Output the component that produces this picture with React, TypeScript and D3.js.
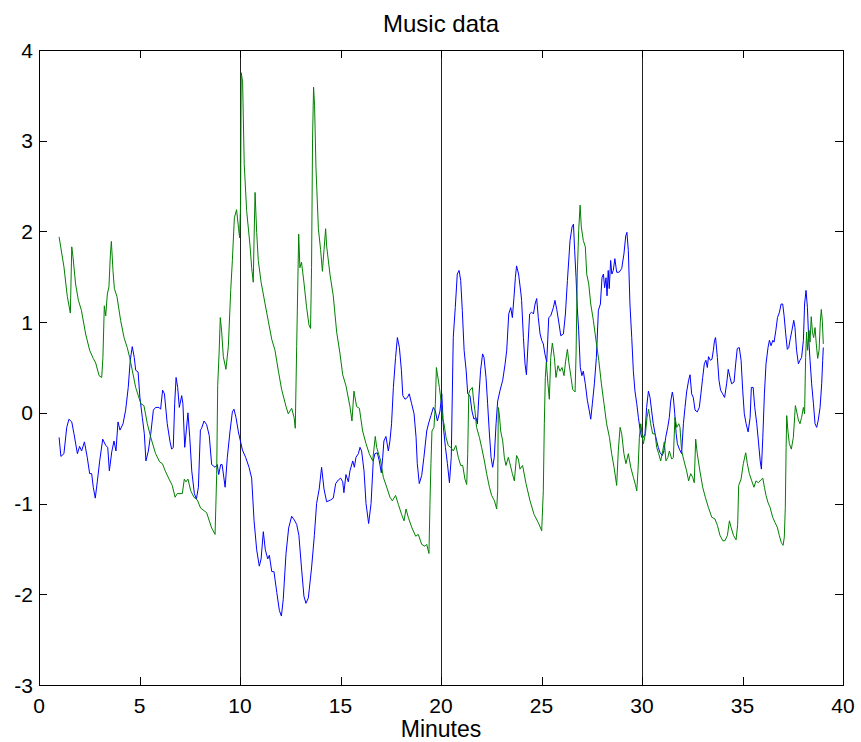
import React from "react";
import * as d3 from "d3";

// Chart text
const chartTitle = "Music data";
const xAxisLabel = "Minutes";

// Axis domains and ticks
const xDomain: [number, number] = [0, 40];
const yDomain: [number, number] = [-3, 4];
const xTicks = [0, 5, 10, 15, 20, 25, 30, 35, 40];
const yTicks = [-3, -2, -1, 0, 1, 2, 3, 4];

// Section markers (minutes)
const sectionMarkers = [10, 20, 30];

// Blue series: [minute, value]
const blueTrace: [number, number][] = [
  [1.0, -0.27], [1.09, -0.48], [1.24, -0.45], [1.38, -0.16], [1.49, -0.07], [1.63, -0.1], [1.74, -0.23],
  [1.91, -0.45], [2.02, -0.37], [2.12, -0.42], [2.26, -0.32], [2.4, -0.49], [2.52, -0.67], [2.62, -0.67],
  [2.7, -0.82], [2.8, -0.94], [2.9, -0.76], [3.02, -0.53], [3.17, -0.29], [3.32, -0.36], [3.42, -0.38],
  [3.5, -0.64], [3.62, -0.43], [3.73, -0.31], [3.83, -0.42], [3.93, -0.1], [4.03, -0.19], [4.18, -0.12],
  [4.31, 0.03], [4.44, 0.28], [4.54, 0.58], [4.64, 0.73], [4.74, 0.61], [4.81, 0.47], [4.93, 0.45],
  [5.02, 0.17], [5.14, -0.05], [5.24, -0.23], [5.32, -0.53], [5.44, -0.42], [5.56, -0.23], [5.69, 0.03],
  [5.8, 0.06], [5.97, 0.06], [6.05, 0.04], [6.15, 0.25], [6.24, 0.21], [6.38, -0.12], [6.52, -0.32],
  [6.6, -0.4], [6.68, -0.38], [6.75, 0.1], [6.82, 0.39], [6.9, 0.28], [6.98, 0.06], [7.1, 0.19],
  [7.16, 0.1], [7.25, -0.38], [7.33, -0.19], [7.41, 0.0], [7.5, -0.27], [7.6, -0.64], [7.73, -0.89],
  [7.83, -0.95], [7.93, -0.82], [8.03, -0.19], [8.09, -0.17], [8.21, -0.09], [8.34, -0.13], [8.47, -0.25],
  [8.59, -0.57], [8.76, -0.6], [8.87, -0.57], [8.94, -0.68], [9.04, -0.57], [9.11, -0.57], [9.26, -0.82],
  [9.37, -0.49], [9.5, -0.21], [9.62, 0.01], [9.7, 0.04], [9.8, -0.05], [9.92, -0.21], [10.0, -0.29],
  [10.12, -0.41], [10.28, -0.49], [10.45, -0.6], [10.58, -0.72], [10.7, -1.19], [10.83, -1.51],
  [10.96, -1.69], [11.05, -1.61], [11.16, -1.31], [11.26, -1.51], [11.38, -1.61], [11.46, -1.57],
  [11.58, -1.75], [11.69, -1.75], [11.83, -1.98], [11.96, -2.18], [12.06, -2.24], [12.15, -2.06],
  [12.29, -1.55], [12.42, -1.27], [12.57, -1.14], [12.7, -1.18], [12.82, -1.23], [12.93, -1.35],
  [13.06, -1.71], [13.18, -2.02], [13.28, -2.1], [13.4, -2.04], [13.56, -1.71], [13.7, -1.35],
  [13.81, -1.0], [13.94, -0.84], [14.06, -0.6], [14.18, -0.84], [14.31, -0.98], [14.51, -0.96],
  [14.64, -0.94], [14.76, -0.78], [14.89, -0.74], [15.01, -0.72], [15.11, -0.76], [15.17, -0.88],
  [15.27, -0.68], [15.39, -0.76], [15.47, -0.64], [15.61, -0.53], [15.69, -0.6], [15.77, -0.49],
  [15.89, -0.45], [15.97, -0.38], [16.05, -0.42], [16.17, -0.64], [16.27, -1.0], [16.4, -1.22],
  [16.52, -1.0], [16.63, -0.53], [16.71, -0.45], [16.83, -0.44], [16.93, -0.53], [17.03, -0.66],
  [17.1, -0.49], [17.16, -0.31], [17.26, -0.26], [17.38, -0.42], [17.46, -0.31], [17.54, -0.12],
  [17.63, 0.28], [17.74, 0.61], [17.83, 0.83], [17.93, 0.72], [18.03, 0.47], [18.1, 0.19], [18.21, 0.15],
  [18.33, 0.17], [18.42, 0.21], [18.54, 0.1], [18.66, -0.01], [18.76, -0.27], [18.82, -0.56],
  [18.92, -0.78], [19.04, -0.69], [19.15, -0.49], [19.29, -0.2], [19.39, -0.11], [19.5, -0.03],
  [19.62, 0.06], [19.72, 0.02], [19.82, -0.09], [19.95, 0.02], [20.04, 0.21], [20.12, -0.16],
  [20.22, -0.38], [20.32, -0.56], [20.42, -0.77], [20.51, -0.49], [20.61, 0.83], [20.71, 1.16],
  [20.81, 1.53], [20.9, 1.57], [20.98, 1.46], [21.06, 1.13], [21.15, 0.69], [21.25, 0.47], [21.33, 0.21],
  [21.44, 0.19], [21.54, 0.02], [21.64, -0.07], [21.74, -0.05], [21.81, -0.12], [21.87, 0.13],
  [21.97, 0.47], [22.07, 0.65], [22.14, 0.61], [22.24, 0.39], [22.32, 0.1], [22.4, -0.2], [22.49, -0.49],
  [22.57, -0.6], [22.65, -0.49], [22.74, -0.12], [22.82, 0.13], [22.94, 0.25], [23.07, 0.36],
  [23.19, 0.54], [23.27, 0.69], [23.37, 1.09], [23.47, 1.16], [23.55, 1.05], [23.63, 1.27], [23.7, 1.49],
  [23.76, 1.62], [23.86, 1.53], [23.98, 1.31], [24.01, 1.24], [24.1, 0.83], [24.18, 0.54], [24.25, 0.42],
  [24.33, 0.76], [24.41, 1.09], [24.51, 1.11], [24.6, 1.09], [24.68, 1.2], [24.76, 1.26], [24.84, 1.05],
  [24.93, 0.87], [25.01, 0.8], [25.09, 0.76], [25.17, 0.65], [25.26, 0.56], [25.36, 1.05], [25.46, 1.07],
  [25.59, 1.16], [25.67, 1.24], [25.76, 1.14], [25.86, 1.0], [25.96, 0.85], [26.09, 0.87], [26.19, 1.09],
  [26.29, 1.46], [26.42, 1.9], [26.52, 2.05], [26.59, 2.08], [26.65, 1.79], [26.72, 1.49], [26.78, 1.16],
  [26.85, 0.91], [26.93, 0.5], [27.01, 0.41], [27.08, 0.46], [27.18, 0.32], [27.28, 0.14], [27.38, 0.02],
  [27.45, -0.07], [27.53, 0.1], [27.63, 0.32], [27.73, 0.61], [27.83, 1.13], [27.93, 1.2], [28.01, 1.49],
  [28.08, 1.53], [28.14, 1.38], [28.21, 1.49], [28.26, 1.29], [28.32, 1.57], [28.37, 1.37], [28.44, 1.68],
  [28.5, 1.53], [28.57, 1.57], [28.65, 1.7], [28.74, 1.55], [28.86, 1.55], [28.99, 1.59], [29.1, 1.75],
  [29.19, 1.95], [29.25, 1.99], [29.32, 1.79], [29.4, 1.2], [29.49, 0.83], [29.57, 0.46], [29.65, 0.24],
  [29.74, 0.1], [29.82, -0.05], [29.9, -0.18], [29.98, -0.27], [30.07, -0.27], [30.15, -0.23],
  [30.23, 0.06], [30.32, 0.24], [30.4, 0.17], [30.48, 0.02], [30.56, -0.12], [30.65, -0.23],
  [30.73, -0.31], [30.81, -0.38], [30.9, -0.44], [31.01, -0.47], [31.09, -0.42], [31.18, -0.27],
  [31.28, -0.16], [31.36, -0.05], [31.43, 0.13], [31.51, 0.23], [31.56, 0.17], [31.63, -0.01],
  [31.7, -0.23], [31.76, -0.34], [31.86, -0.4], [31.97, -0.45], [32.06, -0.12], [32.14, 0.06],
  [32.22, 0.23], [32.32, 0.36], [32.39, 0.42], [32.47, 0.21], [32.55, 0.17], [32.64, 0.03], [32.75, 0.01],
  [32.85, 0.06], [32.93, 0.21], [33.02, 0.39], [33.1, 0.54], [33.18, 0.58], [33.25, 0.5], [33.31, 0.62],
  [33.4, 0.58], [33.48, 0.59], [33.55, 0.69], [33.61, 0.8], [33.66, 0.83], [33.75, 0.61], [33.83, 0.36],
  [33.91, 0.25], [34.01, 0.21], [34.11, 0.17], [34.21, 0.32], [34.29, 0.48], [34.38, 0.39], [34.46, 0.32],
  [34.58, 0.34], [34.66, 0.54], [34.74, 0.71], [34.84, 0.72], [34.93, 0.58], [35.01, 0.25], [35.09, -0.01],
  [35.18, -0.12], [35.28, -0.21], [35.38, -0.05], [35.44, 0.28], [35.53, 0.28], [35.61, 0.06],
  [35.71, -0.12], [35.79, -0.31], [35.88, -0.53], [35.94, -0.62], [36.01, -0.27], [36.09, 0.21],
  [36.17, 0.54], [36.27, 0.72], [36.34, 0.8], [36.42, 0.74], [36.51, 0.8], [36.57, 0.78], [36.66, 0.91],
  [36.74, 1.05], [36.84, 1.11], [36.92, 1.2], [37.0, 1.2], [37.07, 1.07], [37.15, 0.87], [37.23, 0.7],
  [37.3, 0.72], [37.38, 0.82], [37.46, 0.91], [37.55, 1.02], [37.61, 0.94], [37.69, 0.69], [37.78, 0.54],
  [37.86, 0.58], [37.94, 0.61], [38.03, 0.8], [38.09, 1.2], [38.16, 1.35], [38.23, 1.16], [38.29, 0.83],
  [38.36, 0.58], [38.44, 0.32], [38.53, 0.1], [38.61, -0.12], [38.69, -0.16], [38.77, -0.08],
  [38.86, 0.06], [38.94, 0.32], [38.99, 0.58], [39.02, 0.72],
];

// Green series: [minute, value]
const greenTrace: [number, number][] = [
  [1.0, 1.94], [1.24, 1.61], [1.41, 1.28], [1.56, 1.1], [1.63, 1.83], [1.69, 1.72], [1.82, 1.42],
  [1.96, 1.24], [2.11, 1.13], [2.32, 0.87], [2.52, 0.69], [2.7, 0.6], [2.82, 0.55], [2.99, 0.41],
  [3.12, 0.39], [3.18, 0.61], [3.25, 1.18], [3.32, 1.07], [3.4, 1.31], [3.48, 1.39], [3.55, 1.74],
  [3.6, 1.89], [3.68, 1.57], [3.75, 1.37], [3.88, 1.28], [4.06, 1.02], [4.23, 0.83], [4.39, 0.72],
  [4.51, 0.61], [4.64, 0.47], [4.81, 0.28], [4.94, 0.19], [5.07, 0.1], [5.22, 0.08], [5.39, -0.12],
  [5.56, -0.27], [5.8, -0.45], [6.0, -0.54], [6.14, -0.56], [6.3, -0.65], [6.47, -0.73], [6.63, -0.8],
  [6.77, -0.93], [6.88, -0.89], [7.13, -0.89], [7.23, -0.73], [7.31, -0.76], [7.41, -0.73], [7.55, -0.86],
  [7.71, -0.93], [7.88, -0.96], [8.04, -1.05], [8.34, -1.1], [8.59, -1.27], [8.76, -1.34], [8.84, -0.68],
  [8.89, 0.3], [8.96, 0.66], [9.02, 1.05], [9.09, 0.89], [9.17, 0.62], [9.3, 0.48], [9.42, 0.73],
  [9.54, 1.36], [9.62, 1.68], [9.72, 2.15], [9.83, 2.24], [9.93, 2.03], [9.98, 1.93], [10.03, 2.31],
  [10.06, 3.75], [10.13, 3.65], [10.21, 2.74], [10.33, 2.23], [10.5, 1.84], [10.58, 1.6], [10.66, 1.44],
  [10.7, 1.92], [10.75, 2.43], [10.83, 1.99], [10.91, 1.68], [11.05, 1.44], [11.24, 1.21], [11.41, 1.01],
  [11.58, 0.81], [11.74, 0.69], [11.91, 0.46], [12.07, 0.26], [12.29, 0.07], [12.4, -0.01], [12.57, 0.05],
  [12.69, -0.05], [12.75, -0.17], [12.82, 0.73], [12.92, 1.97], [12.98, 1.6], [13.06, 1.66], [13.18, 1.44],
  [13.31, 1.17], [13.43, 0.97], [13.51, 0.93], [13.56, 1.6], [13.61, 3.02], [13.66, 3.59], [13.71, 3.39],
  [13.78, 2.7], [13.9, 2.03], [14.01, 1.8], [14.1, 1.56], [14.18, 1.8], [14.26, 2.03], [14.31, 1.84],
  [14.48, 1.52], [14.64, 1.29], [14.81, 0.89], [14.97, 0.66], [15.11, 0.42], [15.27, 0.3], [15.47, 0.07],
  [15.57, -0.09], [15.67, 0.24], [15.8, 0.07], [15.94, 0.05], [16.1, -0.2], [16.27, -0.34], [16.43, -0.45],
  [16.6, -0.53], [16.73, -0.26], [16.8, -0.38], [16.88, -0.44], [17.0, -0.53], [17.13, -0.71],
  [17.3, -0.82], [17.46, -0.93], [17.58, -0.97], [17.74, -0.91], [17.88, -1.01], [18.04, -1.12],
  [18.16, -1.19], [18.26, -1.06], [18.37, -1.15], [18.54, -1.26], [18.74, -1.36], [18.87, -1.34],
  [19.04, -1.45], [19.2, -1.47], [19.29, -1.45], [19.4, -1.55], [19.45, -1.01], [19.5, -0.56],
  [19.55, -0.2], [19.65, -0.16], [19.72, 0.1], [19.77, 0.5], [19.82, 0.43], [19.92, 0.28], [20.02, 0.1],
  [20.08, -0.07], [20.15, -0.12], [20.25, -0.27], [20.36, -0.36], [20.48, -0.38], [20.61, -0.42],
  [20.74, -0.36], [20.86, -0.49], [20.98, -0.58], [21.08, -0.58], [21.19, -0.73], [21.28, -0.79],
  [21.33, -0.45], [21.38, 0.21], [21.44, 0.25], [21.56, 0.28], [21.62, 0.14], [21.69, 0.02],
  [21.77, -0.16], [21.91, -0.27], [22.02, -0.38], [22.16, -0.53], [22.27, -0.67], [22.41, -0.82],
  [22.52, -0.91], [22.66, -0.97], [22.77, -1.06], [22.82, -0.86], [22.85, 0.06], [22.9, -0.01],
  [22.97, -0.2], [23.07, -0.31], [23.15, -0.49], [23.23, -0.58], [23.35, -0.49], [23.43, -0.56],
  [23.55, -0.67], [23.65, -0.75], [23.76, -0.47], [23.85, -0.51], [23.93, -0.62], [24.06, -0.58],
  [24.23, -0.78], [24.43, -0.97], [24.63, -1.12], [24.84, -1.21], [25.01, -1.3], [25.09, -0.86],
  [25.14, -0.12], [25.19, 0.39], [25.24, 0.56], [25.32, 0.32], [25.39, 0.15], [25.46, 0.61], [25.54, 0.77],
  [25.64, 0.61], [25.72, 0.39], [25.82, 0.52], [25.92, 0.46], [26.02, 0.5], [26.12, 0.41], [26.2, 0.57],
  [26.29, 0.7], [26.37, 0.54], [26.47, 0.39], [26.55, 0.26], [26.67, 0.23], [26.72, 0.65], [26.78, 1.53],
  [26.85, 2.01], [26.92, 2.29], [26.98, 2.05], [27.08, 1.9], [27.18, 1.83], [27.25, 1.53], [27.35, 1.42],
  [27.45, 1.2], [27.58, 1.02], [27.71, 0.8], [27.85, 0.58], [27.98, 0.32], [28.11, 0.1], [28.24, -0.12],
  [28.38, -0.27], [28.49, -0.45], [28.61, -0.6], [28.74, -0.8], [28.82, -0.42], [28.91, -0.16],
  [28.99, -0.23], [29.1, -0.45], [29.2, -0.56], [29.32, -0.45], [29.44, -0.6], [29.57, -0.71],
  [29.67, -0.79], [29.74, -0.86], [29.8, -0.64], [29.87, -0.27], [29.94, -0.12], [30.0, -0.23],
  [30.07, -0.34], [30.17, -0.23], [30.25, -0.05], [30.33, 0.04], [30.43, -0.12], [30.53, -0.23],
  [30.65, -0.23], [30.73, -0.38], [30.83, -0.45], [30.93, -0.53], [31.03, -0.42], [31.11, -0.32],
  [31.19, -0.53], [31.29, -0.49], [31.36, -0.42], [31.48, -0.51], [31.56, -0.49], [31.64, -0.05],
  [31.73, -0.16], [31.83, -0.12], [31.89, -0.16], [31.97, -0.42], [32.09, -0.53], [32.22, -0.64],
  [32.32, -0.75], [32.42, -0.67], [32.52, -0.71], [32.6, -0.77], [32.67, -0.29], [32.75, -0.45],
  [32.88, -0.64], [33.02, -0.82], [33.15, -0.93], [33.3, -1.04], [33.47, -1.15], [33.63, -1.17],
  [33.75, -1.24], [33.88, -1.35], [34.02, -1.41], [34.13, -1.41], [34.25, -1.35], [34.35, -1.19],
  [34.43, -1.26], [34.55, -1.35], [34.68, -1.4], [34.76, -1.23], [34.81, -0.8], [34.93, -0.73],
  [35.04, -0.56], [35.16, -0.44], [35.24, -0.56], [35.34, -0.67], [35.46, -0.75], [35.57, -0.82],
  [35.67, -0.75], [35.79, -0.77], [35.91, -0.74], [36.01, -0.72], [36.09, -0.82], [36.17, -0.91],
  [36.27, -0.99], [36.37, -1.04], [36.5, -1.15], [36.62, -1.21], [36.73, -1.26], [36.83, -1.35],
  [36.93, -1.43], [37.02, -1.46], [37.08, -1.37], [37.13, -1.04], [37.17, -0.38], [37.2, -0.03],
  [37.26, -0.2], [37.33, -0.34], [37.43, -0.4], [37.53, -0.27], [37.63, 0.08], [37.69, 0.02],
  [37.78, -0.08], [37.86, -0.12], [37.94, -0.05], [38.03, 0.06], [38.09, -0.01], [38.14, 0.61],
  [38.19, 0.89], [38.24, 0.69], [38.31, 0.91], [38.36, 0.78], [38.42, 1.06], [38.48, 0.89], [38.54, 0.83],
  [38.61, 0.94], [38.67, 0.76], [38.74, 0.6], [38.81, 0.69], [38.87, 1.0], [38.92, 1.14], [38.97, 1.02],
  [39.02, 0.76],
];

const WIDTH = 861;
const HEIGHT = 742;
const plot = { left: 39, right: 843, top: 50, bottom: 685 };
const TICK_LEN = 8;
const FONT = "'Liberation Sans', Arial, Helvetica, sans-serif";

export default function App() {
  const x = d3.scaleLinear().domain(xDomain).range([plot.left, plot.right]);
  const y = d3.scaleLinear().domain(yDomain).range([plot.bottom, plot.top]);

  const line = d3
    .line<[number, number]>()
    .x((d) => x(d[0]))
    .y((d) => y(d[1]));

  const axisColor = "#000";

  return (
    <svg
      width={WIDTH}
      height={HEIGHT}
      viewBox={`0 0 ${WIDTH} ${HEIGHT}`}
      style={{ position: "absolute", left: 0, top: 0, background: "#fff" }}
      fontFamily={FONT}
    >
      <rect x={0} y={0} width={WIDTH} height={HEIGHT} fill="#fff" />

      {/* section markers */}
      {sectionMarkers.map((m) => (
        <line
          key={`m${m}`}
          x1={Math.round(x(m)) + 0.5}
          x2={Math.round(x(m)) + 0.5}
          y1={plot.top}
          y2={plot.bottom}
          stroke="#222"
          strokeWidth={1}
        />
      ))}

      {/* data series */}
      <path d={line(blueTrace) ?? ""} fill="none" stroke="#0000ff" strokeWidth={1} />
      <path d={line(greenTrace) ?? ""} fill="none" stroke="#008000" strokeWidth={1} />

      {/* axes box */}
      <rect
        x={plot.left + 0.5}
        y={plot.top + 0.5}
        width={plot.right - plot.left}
        height={plot.bottom - plot.top}
        fill="none"
        stroke={axisColor}
        strokeWidth={1}
      />

      {/* x ticks (bottom and top, inward) */}
      {xTicks.map((t) => {
        const px = Math.round(x(t)) + 0.5;
        return (
          <g key={`xt${t}`}>
            <line x1={px} x2={px} y1={plot.bottom} y2={plot.bottom - TICK_LEN} stroke={axisColor} />
            <line x1={px} x2={px} y1={plot.top} y2={plot.top + TICK_LEN} stroke={axisColor} />
            <text x={x(t)} y={713} textAnchor="middle" fontSize={21} fill="#000">
              {t}
            </text>
          </g>
        );
      })}

      {/* y ticks (left and right, inward) */}
      {yTicks.map((t) => {
        const py = Math.round(y(t)) + 0.5;
        return (
          <g key={`yt${t}`}>
            <line x1={plot.left} x2={plot.left + TICK_LEN} y1={py} y2={py} stroke={axisColor} />
            <line x1={plot.right} x2={plot.right - TICK_LEN} y1={py} y2={py} stroke={axisColor} />
            <text x={plot.left - 6} y={y(t) + 7.5} textAnchor="end" fontSize={21} fill="#000">
              {t}
            </text>
          </g>
        );
      })}

      {/* title and axis label */}
      <text x={(plot.left + plot.right) / 2} y={32} textAnchor="middle" fontSize={24} fill="#000">
        {chartTitle}
      </text>
      <text x={(plot.left + plot.right) / 2} y={737} textAnchor="middle" fontSize={23} fill="#000">
        {xAxisLabel}
      </text>
    </svg>
  );
}
